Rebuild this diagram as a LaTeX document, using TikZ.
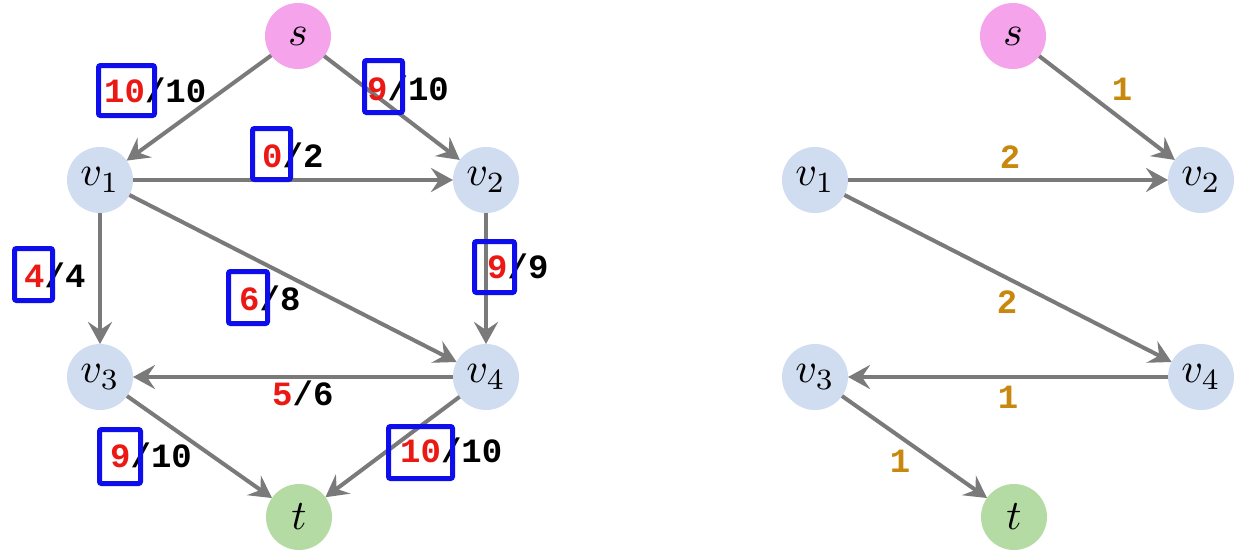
\documentclass[tikz,border=0pt]{standalone}
\usepackage{graphicx}
\usepackage{fontspec}
\newfontfamily\lblfont{Liberation Mono}
\usetikzlibrary{arrows.meta}
\definecolor{edgegray}{RGB}{122,122,122}
\definecolor{srcpink}{RGB}{245,163,234}
\definecolor{vblue}{RGB}{208,221,241}
\definecolor{sinkgreen}{RGB}{181,219,165}
\definecolor{flowred}{RGB}{236,24,20}
\definecolor{boxblue}{RGB}{14,14,236}
\definecolor{resgold}{RGB}{200,136,14}
\newcommand{\vtxmath}[1]{\scalebox{4.2}{$#1$}}
\tikzset{
  vtx/.style={circle, minimum size=66pt, inner sep=0pt, outer sep=0pt},
  srcnode/.style={vtx, fill=srcpink},
  vnode/.style={vtx, fill=vblue},
  sinknode/.style={vtx, fill=sinkgreen},
  arc/.style={draw=edgegray, line width=4pt, -{Stealth[length=22pt,width=24pt,inset=8pt]}},
  lbl/.style={font=\lblfont\bfseries\fontsize{34}{36}\selectfont, inner sep=0pt, anchor=base west},
  resl/.style={font=\lblfont\bfseries\fontsize{34}{36}\selectfont, text=resgold, inner sep=0pt},
  bx/.style={draw=boxblue, line width=5pt, rounded corners=2pt, inner sep=0pt}
}
\newcommand{\fl}[1]{\textcolor{flowred}{#1}}
\begin{document}
\begin{tikzpicture}[x=1pt,y=-1pt]
\useasboundingbox[fill=white] (0,0) rectangle (1256,554);
% left graph
\node[srcnode] (s) at (298,36) {\vtxmath{s}};
\node[vnode] (v1) at (100,180) {\vtxmath{v_1}};
\node[vnode] (v2) at (486,180) {\vtxmath{v_2}};
\node[vnode] (v3) at (100,377) {\vtxmath{v_3}};
\node[vnode] (v4) at (486,377) {\vtxmath{v_4}};
\node[sinknode] (t) at (299,517) {\vtxmath{t}};
\draw[arc] (s) -- (v1);
\draw[arc] (s) -- (v2);
\draw[arc] (v1) -- (v2);
\draw[arc] (v1) -- (v3);
\draw[arc] (v1) -- (v4);
\draw[arc] (v2) -- (v4);
\draw[arc] (v4) -- (v3);
\draw[arc] (v3) -- (t);
\draw[arc] (v4) -- (t);
% flow labels
\node[lbl] (f1) at (104,102) {\fl{10}/10};
\node[lbl] (f2) at (367,100) {\fl{9}/10};
\node[lbl] (f3) at (262,167) {\fl{0}/2};
\node[lbl] (f4) at (24,287) {\fl{4}/4};
\node[lbl] (f5) at (239,310) {\fl{6}/8};
\node[lbl] (f6) at (487,278) {\fl{9}/9};
\node[lbl] (f7) at (272,405) {\fl{5}/6};
\node[lbl] (f8) at (110,467) {\fl{9}/10};
\node[lbl] (f9) at (400,462) {\fl{10}/10};
% blue boxes
\node[bx, minimum width=56pt, minimum height=50pt] (b1) at (126.5,90.5) {};
\node[bx, minimum width=38pt, minimum height=52pt] (b2) at (383.5,86.5) {};
\node[bx, minimum width=38pt, minimum height=51pt] (b3) at (271.5,154) {};
\node[bx, minimum width=38pt, minimum height=52pt] (b4) at (33.5,274.5) {};
\node[bx, minimum width=39pt, minimum height=52pt] (b5) at (248,297.5) {};
\node[bx, minimum width=40pt, minimum height=51pt] (b6) at (494.5,267) {};
\node[bx, minimum width=41pt, minimum height=54pt] (b7) at (120,456.5) {};
\node[bx, minimum width=64pt, minimum height=52pt] (b8) at (420.5,452.5) {};
% right graph
\node[srcnode] (rs) at (1013,36) {\vtxmath{s}};
\node[vnode] (rv1) at (815,180) {\vtxmath{v_1}};
\node[vnode] (rv2) at (1201,180) {\vtxmath{v_2}};
\node[vnode] (rv3) at (815,377) {\vtxmath{v_3}};
\node[vnode] (rv4) at (1201,377) {\vtxmath{v_4}};
\node[sinknode] (rt) at (1014,517) {\vtxmath{t}};
\draw[arc] (rs) -- (rv2);
\draw[arc] (rv1) -- (rv2);
\draw[arc] (rv1) -- (rv4);
\draw[arc] (rv4) -- (rv3);
\draw[arc] (rv3) -- (rt);
\node[resl] (r1) at (1122,89) {1};
\node[resl] (r2) at (1010,157) {2};
\node[resl] (r3) at (1007,302) {2};
\node[resl] (r4) at (1008,397) {1};
\node[resl] (r5) at (900,461) {1};
\end{tikzpicture}
\end{document}
